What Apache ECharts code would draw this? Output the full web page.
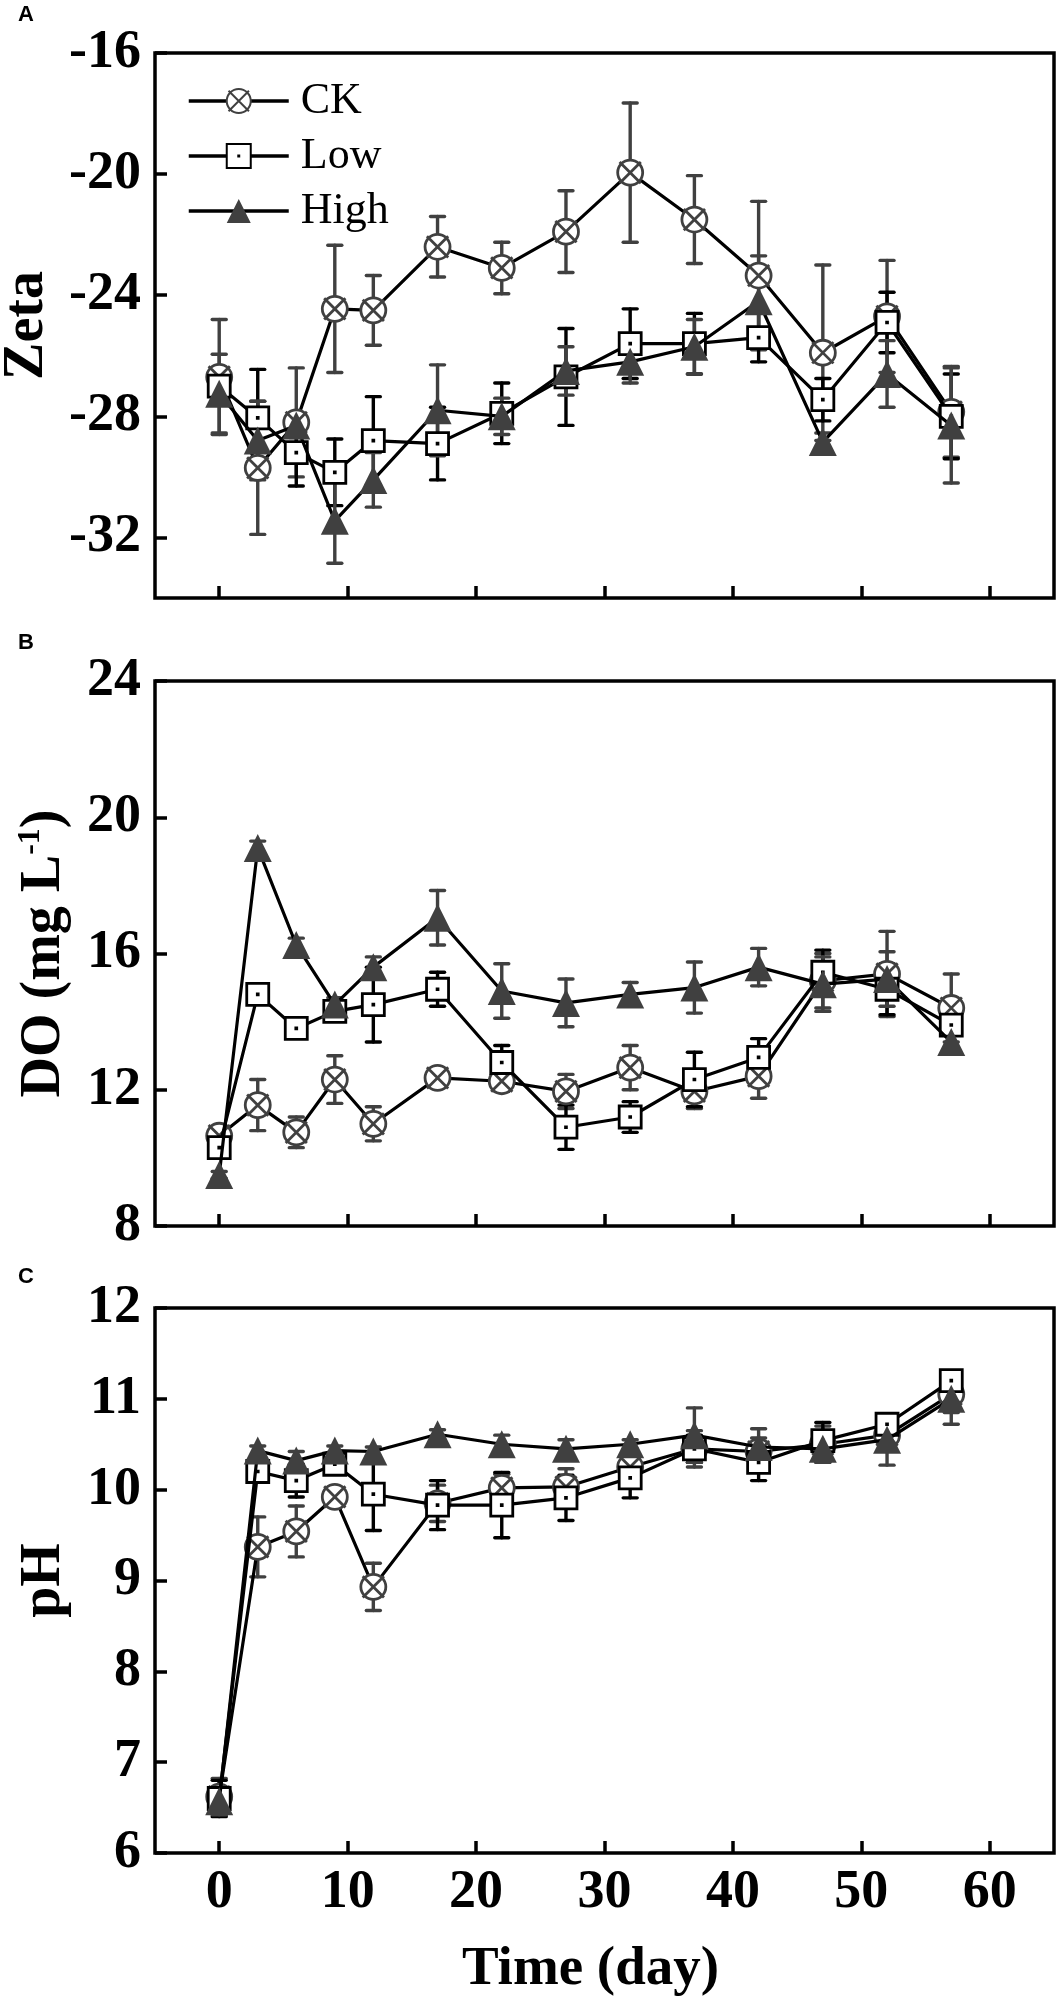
<!DOCTYPE html>
<html>
<head>
<meta charset="utf-8">
<script src="https://cdn.jsdelivr.net/npm/echarts@6/dist/echarts.min.js"></script>
<style>
html,body{margin:0;padding:0;background:#fff;}
#chart{width:1063px;height:2007px;}
</style>
</head>
<body>
<div id="chart"></div>
<script>
// ---------- data ----------
const days = [0, 3, 6, 9, 12, 17, 22, 27, 32, 37, 42, 47, 52, 57];
const xTicks = [0, 10, 20, 30, 40, 50, 60];
const zetaTicks = [-32, -28, -24, -20, -16];
const doTicks = [8, 12, 16, 20, 24];
const phTicks = [6, 7, 8, 9, 10, 11, 12];
const seriesNames = ['CK', 'Low', 'High'];

const zetaCK = [-26.7, -29.7, -28.2, -24.45, -24.5, -22.4, -23.1, -21.9, -19.95, -21.5, -23.35, -25.9, -24.7, -27.85];
const zetaCKErr = [1.9, 2.2, 1.8, 2.1, 1.15, 1.0, 0.85, 1.35, 2.3, 1.45, 2.45, 2.9, 1.85, 1.5];
const zetaLow = [-27.0, -28.05, -29.2, -29.85, -28.8, -28.9, -27.9, -26.7, -25.6, -25.6, -25.4, -27.45, -24.9, -28.0];
const zetaLowErr = [0.5, 1.6, 1.1, 1.1, 1.45, 1.2, 1.0, 1.6, 1.15, 1.0, 0.8, 0.7, 1.0, 1.4];
const zetaHigh = [-27.25, -28.8, -28.3, -31.45, -30.1, -27.8, -28.0, -26.5, -26.2, -25.7, -24.2, -28.85, -26.6, -28.3];
const zetaHighErr = [1.3, 1.3, 0.4, 1.4, 0.9, 1.5, 0.6, 0.8, 0.7, 0.9, 1.5, 0.3, 1.1, 1.9];

const doCK = [10.65, 11.55, 10.75, 12.3, 11.0, 12.35, 12.25, 11.95, 12.65, 11.95, 12.4, 15.2, 15.4, 14.4];
const doCKErr = [0.2, 0.75, 0.45, 0.7, 0.5, 0.2, 0.3, 0.5, 0.65, 0.5, 0.65, 0.8, 1.25, 1.0];
const doLow = [10.3, 14.8, 13.8, 14.3, 14.5, 14.95, 12.8, 10.9, 11.2, 12.3, 12.95, 15.45, 14.95, 13.9];
const doLowErr = [0.3, 0.2, 0.15, 0.2, 1.1, 0.5, 0.5, 0.65, 0.45, 0.8, 0.55, 0.65, 0.75, 0.3];
const doHigh = [9.5, 19.1, 16.25, 14.5, 15.6, 17.05, 14.9, 14.55, 14.8, 15.0, 15.6, 15.1, 15.25, 13.4];
const doHighErr = [0.1, 0.2, 0.2, 0.2, 0.3, 0.8, 0.8, 0.7, 0.35, 0.75, 0.55, 0.8, 0.8, 0.2];

const phCK = [6.62, 9.37, 9.54, 9.92, 8.93, 9.85, 10.02, 10.03, 10.25, 10.45, 10.42, 10.5, 10.6, 11.05];
const phCKErr = [0.2, 0.33, 0.28, 0.1, 0.26, 0.2, 0.15, 0.2, 0.15, 0.2, 0.15, 0.2, 0.15, 0.2];
const phLow = [6.6, 10.2, 10.1, 10.28, 9.95, 9.83, 9.83, 9.91, 10.13, 10.45, 10.3, 10.54, 10.72, 11.2];
const phLowErr = [0.2, 0.1, 0.18, 0.1, 0.4, 0.27, 0.36, 0.25, 0.22, 0.15, 0.2, 0.2, 0.1, 0.1];
const phHigh = [6.57, 10.43, 10.32, 10.43, 10.42, 10.61, 10.5, 10.45, 10.5, 10.6, 10.47, 10.45, 10.55, 11.0];
const phHighErr = [0.15, 0.05, 0.1, 0.05, 0.05, 0.05, 0.1, 0.1, 0.05, 0.3, 0.2, 0.15, 0.28, 0.28];

// ---------- styling ----------
const SERIF = '"Liberation Serif", "Times New Roman", serif';
const GRAY = '#404040';
const CK_SYMBOL = 'path://M22,12 A10,10 0 1 1 2,12 A10,10 0 1 1 22,12 Z M3.5,3.5 L20.5,20.5 M20.5,3.5 L3.5,20.5';
const LOW_SYMBOL = 'path://M0,0 L20,0 L20,20 L0,20 Z M9.6,9.6 L10.4,9.6 L10.4,10.4 L9.6,10.4 Z';

const styles = {
  CK: { symbol: CK_SYMBOL, symbolSize: 25, itemStyle: { color: '#fff', borderColor: GRAY, borderWidth: 2.8 }, err: GRAY },
  Low: { symbol: LOW_SYMBOL, symbolSize: 22, itemStyle: { color: '#fff', borderColor: '#000', borderWidth: 2.8 }, err: '#000' },
  High: { symbol: 'triangle', symbolSize: 28, itemStyle: { color: GRAY, borderColor: GRAY, borderWidth: 0 }, err: GRAY }
};

const panels = [
  { vals: [zetaCK, zetaLow, zetaHigh], errs: [zetaCKErr, zetaLowErr, zetaHighErr] },
  { vals: [doCK, doLow, doHigh], errs: [doCKErr, doLowErr, doHighErr] },
  { vals: [phCK, phLow, phHigh], errs: [phCKErr, phLowErr, phHighErr] }
];

function errSeries(idx, vals, errs, color) {
  return {
    type: 'custom',
    xAxisIndex: idx, yAxisIndex: idx,
    silent: true, z: 1,
    data: days.map((d, i) => [d, vals[i] - errs[i], vals[i] + errs[i]]),
    encode: { x: 0, y: [1, 2] },
    renderItem: function (params, api) {
      const x = api.value(0);
      const lo = api.coord([x, api.value(1)]);
      const hi = api.coord([x, api.value(2)]);
      const w = 7;
      const st = { stroke: color, lineWidth: 3.4, lineCap: 'round' };
      return {
        type: 'group',
        children: [
          { type: 'line', shape: { x1: lo[0], y1: lo[1], x2: hi[0], y2: hi[1] }, style: st },
          { type: 'line', shape: { x1: lo[0] - w, y1: lo[1], x2: lo[0] + w, y2: lo[1] }, style: st },
          { type: 'line', shape: { x1: hi[0] - w, y1: hi[1], x2: hi[0] + w, y2: hi[1] }, style: st }
        ]
      };
    }
  };
}

const series = [];
panels.forEach((p, idx) => {
  seriesNames.forEach((name, k) => {
    series.push(errSeries(idx, p.vals[k], p.errs[k], styles[name].err));
  });
  seriesNames.forEach((name, k) => {
    const s = styles[name];
    series.push({
      type: 'line', name: name,
      xAxisIndex: idx, yAxisIndex: idx, z: 2 + k,
      data: days.map((d, i) => [d, p.vals[k][i]]),
      symbol: s.symbol, symbolSize: s.symbolSize,
      itemStyle: s.itemStyle,
      lineStyle: { color: '#000', width: 3.2 },
      silent: true
    });
  });
});

const gridTops = [53, 681, 1308];
const grids = gridTops.map(t => ({
  left: 155, right: 9, top: t, height: 545,
  outerBoundsMode: 'none',
  show: true, borderColor: '#000', borderWidth: 3.5, backgroundColor: 'transparent'
}));

const tickLabel = { fontFamily: SERIF, fontWeight: 'bold', fontSize: 54, color: '#000' };

const xAxes = [0, 1, 2].map(i => ({
  type: 'value', gridIndex: i, min: -5, max: 65,
  axisLine: { show: false, onZero: false },
  splitLine: { show: false },
  axisTick: { show: true, inside: true, length: 12, customValues: xTicks, lineStyle: { color: '#000', width: 3.5 } },
  axisLabel: Object.assign({ show: i === 2, margin: 13, customValues: xTicks }, tickLabel),
  name: i === 2 ? 'Time (day)' : '',
  nameLocation: 'middle', nameGap: 89,
  nameTextStyle: { fontFamily: SERIF, fontWeight: 'bold', fontSize: 55, color: '#000', padding: [0, 28, 0, 0] }
}));

const yDefs = [
  { min: -34, max: -16, ticks: zetaTicks, name: 'Zeta', gap: 99 },
  { min: 8, max: 24, ticks: doTicks, name: '{t|DO (mg L}{s|-1}{t|)}', gap: 80 },
  { min: 6, max: 12, ticks: phTicks, name: 'pH', gap: 82 }
];
const yAxes = yDefs.map((d, i) => ({
  type: 'value', gridIndex: i, min: d.min, max: d.max,
  axisLine: { show: false, onZero: false },
  splitLine: { show: false },
  axisTick: { show: true, inside: true, length: 12, customValues: d.ticks, lineStyle: { color: '#000', width: 3.5 } },
  axisLabel: Object.assign({ margin: 14, customValues: d.ticks }, tickLabel),
  name: d.name, nameLocation: 'middle', nameGap: d.gap,
  nameTextStyle: {
    fontFamily: SERIF, fontWeight: 'bold', fontSize: 56, color: '#000',
    rich: {
      t: { fontFamily: SERIF, fontWeight: 'bold', fontSize: 56, color: '#000', lineHeight: 60 },
      s: { fontFamily: SERIF, fontWeight: 'bold', fontSize: 32, color: '#000', lineHeight: 34, verticalAlign: 'top' }
    }
  }
}));

const panelLetter = (txt, x, y) => ({
  type: 'text', left: x, top: y,
  style: { text: txt, font: 'bold 22px "Liberation Sans", Arial, sans-serif', fill: '#000' }
});

const chart = echarts.init(document.getElementById('chart'), null, { renderer: 'canvas' });
chart.setOption({
  animation: false,
  backgroundColor: '#fff',
  grid: grids,
  xAxis: xAxes,
  yAxis: yAxes,
  legend: {
    data: seriesNames, orient: 'vertical', left: 182, top: 74,
    itemWidth: 100, itemHeight: 30, itemGap: 11,
    selectedMode: false,
    lineStyle: { width: 3.5, color: '#000' },
    textStyle: { fontFamily: SERIF, fontSize: 44, color: '#000', padding: [0, 0, 0, 7] }
  },
  graphic: [panelLetter('A', 18, 4), panelLetter('B', 18, 632), panelLetter('C', 18, 1266)],
  series: series
});
</script>
</body>
</html>
